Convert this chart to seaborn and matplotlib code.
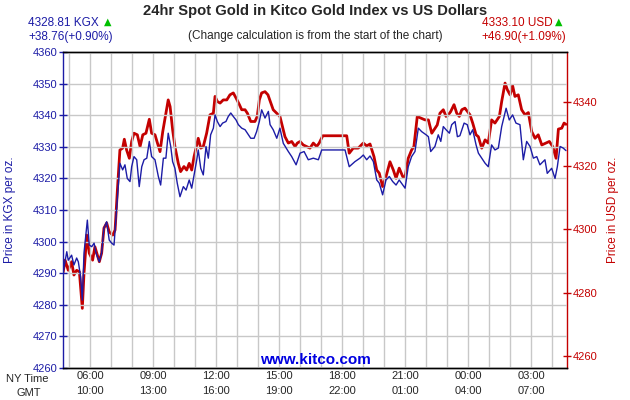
import matplotlib
matplotlib.use("Agg")
import matplotlib.pyplot as plt
import seaborn as sns
import pandas as pd

# hours since chart start (04:42 NY time)
KGX_HOURS = [0.00, 0.18, 0.25, 0.41, 0.52, 0.65, 0.73, 0.84, 0.92, 1.00, 1.16, 1.25, 1.37, 1.48, 1.57,
             1.73, 1.84, 1.95, 2.08, 2.20, 2.32, 2.43, 2.56, 2.71, 2.84, 2.95, 3.06, 3.19, 3.27, 3.38,
             3.51, 3.63, 3.75, 3.86, 3.99, 4.11, 4.22, 4.38, 4.54, 4.65, 4.78, 4.90, 5.01, 5.13, 5.22,
             5.33, 5.44, 5.57, 5.73, 5.86, 6.01, 6.13, 6.24, 6.37, 6.44, 6.56, 6.68, 6.81, 6.92, 7.03,
             7.16, 7.24, 7.35, 7.48, 7.60, 7.76, 7.87, 7.99, 8.11, 8.24, 8.35, 8.51, 8.67, 8.78, 8.94,
             9.10, 9.22, 9.35, 9.46, 9.62, 9.78, 9.86, 10.01, 10.18, 10.33, 10.49, 10.73, 10.89, 11.10,
             11.29, 11.48, 11.68, 11.92, 12.16, 12.32, 13.43, 13.63, 13.90, 14.14, 14.30, 14.46, 14.62,
             14.78, 14.94, 15.06, 15.22, 15.38, 15.54, 15.70, 15.86, 16.01, 16.18, 16.29, 16.44, 16.60,
             16.76, 16.92, 17.08, 17.29, 17.40, 17.51, 17.71, 17.87, 17.99, 18.11, 18.24, 18.40, 18.51,
             18.67, 18.78, 18.90, 19.10, 19.25, 19.38, 19.51, 19.67, 19.78, 19.94, 20.10, 20.25, 20.41,
             20.57, 20.73, 20.89, 21.10, 21.25, 21.41, 21.57, 21.76, 21.92, 22.08, 22.24, 22.40, 22.56,
             22.71, 22.95, 23.06, 23.27, 23.43, 23.54, 23.67, 23.82, 23.95]
KGX_PRICE = [4290.1, 4296.8, 4294.1, 4295.7, 4292.6, 4294.8, 4293.6, 4288.8, 4281.5, 4296.4, 4306.8, 4298.9,
             4298.4, 4299.5, 4296.4, 4293.6, 4296.4, 4304.3, 4306.3, 4300.5, 4299.5, 4298.9, 4311.0, 4324.8,
             4322.7, 4324.3, 4320.0, 4319.0, 4323.7, 4326.9, 4325.9, 4317.4, 4323.7, 4325.9, 4326.4, 4331.7,
             4326.9, 4325.9, 4320.6, 4317.9, 4326.4, 4326.4, 4334.3, 4330.1, 4325.3, 4323.2, 4318.5, 4314.2,
             4317.4, 4316.3, 4319.5, 4316.9, 4321.1, 4325.9, 4329.0, 4323.2, 4321.1, 4330.1, 4326.4, 4333.8,
             4335.9, 4340.1, 4338.0, 4336.4, 4337.5, 4338.0, 4339.6, 4340.7, 4339.6, 4338.5, 4337.0, 4335.9,
             4335.4, 4334.3, 4332.7, 4332.7, 4334.8, 4338.0, 4341.7, 4339.1, 4341.2, 4337.0, 4335.4, 4332.7,
             4335.9, 4331.1, 4328.5, 4326.9, 4324.3, 4328.0, 4328.5, 4325.9, 4326.4, 4325.9, 4329.0, 4329.0,
             4323.7, 4325.3, 4326.4, 4327.4, 4325.9, 4327.1, 4325.3, 4319.5, 4318.5, 4314.8, 4319.5, 4320.6,
             4319.0, 4317.9, 4319.5, 4317.9, 4316.9, 4323.7, 4326.9, 4328.5, 4335.9, 4334.8, 4333.8, 4333.2,
             4328.5, 4330.1, 4333.8, 4331.7, 4336.4, 4335.4, 4334.3, 4337.0, 4338.0, 4333.2, 4333.5, 4337.5,
             4337.0, 4333.8, 4335.4, 4330.6, 4328.0, 4326.4, 4324.8, 4323.7, 4330.6, 4329.0, 4329.6, 4336.4,
             4342.2, 4338.5, 4340.1, 4337.5, 4337.0, 4325.9, 4331.7, 4330.1, 4326.4, 4326.9, 4324.3, 4325.9,
             4321.6, 4323.2, 4320.0, 4323.7, 4330.1, 4329.6, 4328.8]

USD_HOURS = [0.00, 0.10, 0.25, 0.41, 0.52, 0.65, 0.78, 0.92, 1.00, 1.13, 1.25, 1.41, 1.52, 1.73, 1.84,
             1.95, 2.08, 2.20, 2.37, 2.48, 2.59, 2.71, 2.84, 2.92, 3.03, 3.16, 3.27, 3.38, 3.54, 3.67,
             3.80, 3.95, 4.11, 4.22, 4.38, 4.62, 4.75, 4.86, 5.01, 5.10, 5.22, 5.33, 5.49, 5.60, 5.76,
             5.89, 6.01, 6.13, 6.24, 6.37, 6.44, 6.56, 6.68, 6.84, 7.00, 7.16, 7.24, 7.35, 7.48, 7.63,
             7.80, 7.95, 8.11, 8.24, 8.40, 8.51, 8.67, 8.78, 8.94, 9.14, 9.25, 9.35, 9.46, 9.62, 9.76,
             10.01, 10.33, 10.57, 10.73, 10.89, 11.05, 11.16, 11.29, 11.44, 11.60, 11.76, 11.92, 12.08,
             12.20, 12.37, 13.51, 13.63, 13.82, 14.06, 14.30, 14.46, 14.62, 14.81, 14.94, 15.06, 15.22,
             15.38, 15.57, 15.73, 15.86, 16.01, 16.18, 16.29, 16.44, 16.60, 16.71, 16.87, 17.03, 17.24,
             17.40, 17.56, 17.67, 17.82, 17.95, 18.11, 18.24, 18.35, 18.46, 18.62, 18.75, 18.87, 18.99,
             19.14, 19.38, 19.51, 19.67, 19.78, 19.94, 20.10, 20.25, 20.41, 20.57, 20.78, 20.89, 21.05,
             21.16, 21.29, 21.41, 21.52, 21.68, 21.84, 22.00, 22.16, 22.32, 22.48, 22.63, 22.80, 23.00,
             23.16, 23.32, 23.48, 23.59, 23.75, 23.86, 23.95]
USD_PRICE = [4286.2, 4290.3, 4287.1, 4289.8, 4285.6, 4287.1, 4286.6, 4275.1, 4286.2, 4298.2, 4292.5, 4290.3,
             4294.5, 4289.8, 4292.5, 4300.4, 4302.0, 4299.2, 4298.2, 4299.8, 4312.4, 4325.0, 4325.6, 4328.4,
             4325.0, 4322.4, 4327.7, 4330.3, 4329.8, 4326.1, 4329.8, 4330.3, 4334.7, 4330.3, 4329.8, 4324.5,
             4330.8, 4335.1, 4340.8, 4338.7, 4331.4, 4326.1, 4320.8, 4318.2, 4319.8, 4318.7, 4320.8, 4318.7,
             4322.9, 4326.6, 4328.7, 4325.6, 4326.1, 4330.3, 4336.1, 4336.6, 4341.9, 4340.3, 4339.8, 4340.8,
             4340.8, 4342.4, 4343.0, 4341.4, 4339.3, 4337.7, 4337.7, 4336.6, 4334.0, 4334.0, 4335.6, 4340.8,
             4343.0, 4343.4, 4342.4, 4337.7, 4335.6, 4329.2, 4327.2, 4327.7, 4326.1, 4327.2, 4327.7, 4326.6,
             4326.1, 4325.6, 4327.2, 4326.1, 4327.2, 4329.5, 4329.5, 4324.0, 4325.6, 4325.6, 4327.2, 4326.3,
             4326.9, 4322.9, 4318.7, 4317.7, 4313.5, 4316.6, 4321.3, 4318.7, 4316.1, 4319.3, 4316.6, 4316.6,
             4322.4, 4325.0, 4326.1, 4335.6, 4335.1, 4334.5, 4334.5, 4330.3, 4331.4, 4332.9, 4336.6, 4337.7,
             4335.6, 4336.1, 4337.1, 4339.3, 4336.6, 4335.6, 4337.7, 4338.2, 4336.1, 4333.5, 4329.8, 4329.2,
             4325.6, 4328.2, 4327.2, 4334.5, 4333.5, 4335.6, 4340.3, 4346.1, 4344.0, 4342.4, 4345.3, 4341.9,
             4342.4, 4337.7, 4336.1, 4336.8, 4330.8, 4328.7, 4329.8, 4326.6, 4327.2, 4327.7, 4326.1, 4322.4,
             4331.6, 4331.9, 4333.5, 4333.1]

START_NY = 4.7  # 04:42 New York time
TICK_NY = ["06:00", "09:00", "12:00", "15:00", "18:00", "21:00", "00:00", "03:00"]
TICK_GMT = ["10:00", "13:00", "16:00", "19:00", "22:00", "01:00", "04:00", "07:00"]

BLUE = "#1c1ca6"
RED = "#c40000"
GRID = "#c8c8c8"

sns.set_style("white")
plt.rcParams["font.family"] = ["Liberation Sans", "DejaVu Sans"]

kgx = pd.DataFrame({"hours": KGX_HOURS, "price": KGX_PRICE})
usd = pd.DataFrame({"hours": USD_HOURS, "price": USD_PRICE})

fig = plt.figure(figsize=(6.3, 4.0), dpi=100)
ax = fig.add_axes([0.1, 0.08, 0.8, 0.79])
ax2 = ax.twinx()

sns.lineplot(data=usd, x="hours", y="price", ax=ax2, color=RED, linewidth=2.0,
             estimator=None, sort=False)
sns.lineplot(data=kgx, x="hours", y="price", ax=ax, color=BLUE, linewidth=1.0,
             estimator=None, sort=False)
ax.set_zorder(ax2.get_zorder() + 1)
ax.patch.set_visible(False)

ax.set_xlim(0, 24)
ax.set_ylim(4260, 4360)
ax2.set_ylim(4256.3, 4355.9)

# hourly grid
first_hour = 1 - (START_NY % 1)
ax.set_xticks([first_hour + i for i in range(24)], minor=True)
ax.set_yticks(range(4260, 4361, 10))
ax.grid(True, which="minor", axis="x", color=GRID, linewidth=1)
ax.grid(True, which="major", axis="y", color=GRID, linewidth=1)
ax.tick_params(axis="x", which="minor", length=0)

major = [6 - START_NY + 3 * i for i in range(len(TICK_NY))]
ax.set_xticks(major)
ax.set_xticklabels([f"{a}\n{b}" for a, b in zip(TICK_NY, TICK_GMT)], fontsize=8, linespacing=1.6)
ax.tick_params(axis="x", which="major", length=0, pad=2)
ax.grid(True, which="major", axis="x", color=GRID, linewidth=1)

ax.tick_params(axis="y", colors=BLUE, labelsize=8, direction="inout", length=6, width=1, pad=1)
ax2.set_yticks(range(4260, 4341, 20))
ax2.tick_params(axis="y", colors=RED, labelsize=8, direction="inout", length=6, width=1, pad=1)

ax.set_xlabel("")
ax.set_ylabel("Price in KGX per oz.", color=BLUE, fontsize=8.5, labelpad=12)
ax2.set_ylabel("Price in USD per oz.", color=RED, fontsize=8.5, labelpad=7)

for a in (ax, ax2):
    for s in a.spines.values():
        s.set_linewidth(1)
        s.set_color("black")
ax.spines["left"].set_color(BLUE)
ax2.spines["left"].set_visible(False)
ax2.spines["right"].set_color(RED)
ax.spines["right"].set_visible(False)

fig.text(0.5, 1 - 11 / 400, "24hr Spot Gold in Kitco Gold Index vs US Dollars",
         ha="center", va="center", fontsize=10.6, fontweight="bold")
fig.text(0.5, 1 - 36 / 400, "(Change calculation is from the start of the chart)",
         ha="center", va="center", fontsize=8.5)

fig.text(28 / 630, 1 - 23 / 400, "4328.81 KGX", ha="left", va="center", fontsize=8.5, color=BLUE)
fig.text(28 / 630, 1 - 37 / 400, "+38.76(+0.90%)", ha="left", va="center", fontsize=8.5, color=BLUE)
fig.text(104 / 630, 1 - 22 / 400, "▲", ha="left", va="center", fontsize=7, color="#00c000",
         family=["DejaVu Sans"])
fig.text(553 / 630, 1 - 23 / 400, "4333.10 USD", ha="right", va="center", fontsize=8.5, color=RED)
fig.text(566 / 630, 1 - 37 / 400, "+46.90(+1.09%)", ha="right", va="center", fontsize=8.5, color=RED)
fig.text(555 / 630, 1 - 22 / 400, "▲", ha="left", va="center", fontsize=7, color="#00c000",
         family=["DejaVu Sans"])

fig.text(0.5, 1 - 360 / 400, "www.kitco.com", ha="center", va="center", fontsize=11,
         fontweight="bold", color="#0000e0")
fig.text(27 / 630, 1 - 379 / 400, "NY Time", ha="center", va="center", fontsize=8)
fig.text(29 / 630, 1 - 393 / 400, "GMT", ha="center", va="center", fontsize=8)

fig.savefig("out.png", dpi=100)
